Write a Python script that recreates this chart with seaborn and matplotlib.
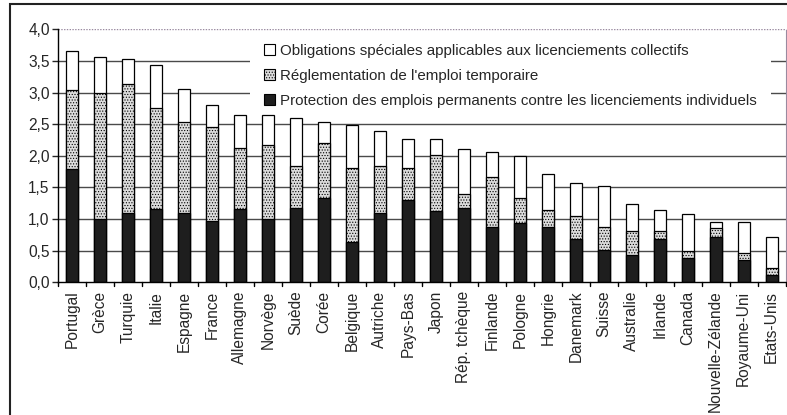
import pandas as pd
import numpy as np
import seaborn as sns
import matplotlib.pyplot as plt
from matplotlib.patches import Patch, Rectangle
from matplotlib.ticker import FuncFormatter

# # Data

pays = ['Portugal', 'Grèce', 'Turquie', 'Italie', 'Espagne', 'France', 'Allemagne',
        'Norvège', 'Suède', 'Corée', 'Belgique', 'Autriche', 'Pays-Bas', 'Japon',
        'Rép. tchèque', 'Finlande', 'Pologne', 'Hongrie', 'Danemark', 'Suisse',
        'Australie', 'Irlande', 'Canada', 'Nouvelle-Zélande', 'Royaume-Uni', 'Etats-Unis']

# protection des emplois permanents (bottom)
permanents = [1.79, 1.00, 1.09, 1.16, 1.09, 0.97, 1.16, 1.00, 1.17, 1.34, 0.63, 1.10, 1.30,
              1.13, 1.17, 0.88, 0.93, 0.88, 0.68, 0.51, 0.43, 0.68, 0.39, 0.72, 0.35, 0.11]
# reglementation de l'emploi temporaire (middle)
temporaire = [1.25, 2.00, 2.04, 1.59, 1.45, 1.49, 0.97, 1.17, 0.67, 0.87, 1.17, 0.74, 0.50,
              0.88, 0.22, 0.79, 0.41, 0.26, 0.37, 0.37, 0.38, 0.13, 0.11, 0.14, 0.12, 0.12]
# obligations speciales licenciements collectifs (top)
collectifs = [0.61, 0.56, 0.40, 0.69, 0.52, 0.35, 0.51, 0.47, 0.75, 0.32, 0.68, 0.55, 0.47,
              0.25, 0.71, 0.39, 0.66, 0.57, 0.52, 0.65, 0.43, 0.34, 0.58, 0.10, 0.49, 0.48]

labels = ["Obligations spéciales applicables aux licenciements collectifs",
          "Réglementation de l'emploi temporaire",
          "Protection des emplois permanents contre les licenciements individuels"]

df = pd.DataFrame({'pays': pays, 'perm': permanents, 'temp': temporaire, 'coll': collectifs})
df['mid'] = df['perm'] + df['temp']
df['total'] = df['mid'] + df['coll']

# # Plot

sns.set_style("white")
plt.rcParams['font.family'] = ['Liberation Sans', 'DejaVu Sans']
plt.rcParams['hatch.color'] = '#a8a8a8'
plt.rcParams['hatch.linewidth'] = 0.5

fig = plt.figure(figsize=(7.87, 4.15), dpi=100)
ax = fig.add_axes([58 / 787, 1 - 282.3 / 415, (785.7 - 58) / 787, (282.3 - 29.3) / 415])

for y in np.arange(0.5, 4.0, 0.5):
    ax.axhline(y, color='#4a4a4a', lw=1.0, zorder=0)
ax.axhline(4.0, color='#9a8aa0', lw=1.0, ls=(0, (1, 1)), zorder=0)

kw = dict(x='pays', data=df, width=0.43, edgecolor='black', linewidth=0.9, zorder=2, ax=ax)
sns.barplot(y='total', color='white', **kw)
sns.barplot(y='mid', color='#dcdcdc', hatch='......', **kw)
sns.barplot(y='perm', color='#1e1e1e', **kw)

ax.set_xlim(-0.5, len(pays) - 0.5)
ax.set_ylim(0, 4.0)
ax.set_yticks(np.arange(0, 4.01, 0.5))
ax.yaxis.set_major_formatter(FuncFormatter(lambda v, p: f"{v:.1f}".replace('.', ',')))
ax.set_xticks(range(len(pays)))
ax.set_xticklabels(pays, rotation=90, fontsize=11.2)
ax.tick_params(axis='x', length=0, pad=6)
ax.tick_params(axis='y', labelsize=11.2, length=4, width=1, direction='out', left=True, pad=2)
for b in np.arange(-0.5, len(pays), 1.0):
    ax.plot([b, b], [0, -0.06], color='black', lw=1, clip_on=False)
ax.set_xlabel('')
ax.set_ylabel('')

ax.spines['top'].set_visible(False)
ax.spines['right'].set_color('#9a8aa0')
ax.spines['right'].set_linestyle((0, (1, 1)))
ax.spines['left'].set_color('black')
ax.spines['bottom'].set_color('black')
ax.spines['left'].set_linewidth(1)
ax.spines['bottom'].set_linewidth(1)

handles = [Patch(facecolor='white', edgecolor='black', lw=0.8),
           Patch(facecolor='#dcdcdc', edgecolor='black', hatch='......', lw=0.8),
           Patch(facecolor='#1e1e1e', edgecolor='black', lw=0.8)]
leg = ax.legend(handles, labels, loc='upper left', bbox_to_anchor=(0.264, 0.995),
                frameon=True, fontsize=10.9, handlelength=0.75, handleheight=0.75,
                handletextpad=0.35, labelspacing=0.72, borderpad=0.9, borderaxespad=0)
leg.get_frame().set_edgecolor('none')
leg.get_frame().set_facecolor('white')
leg.get_frame().set_alpha(1)
# legend hides the gridlines but sits behind the bars
leg.set_zorder(1)

# outer chart frame
fig.patches.append(Rectangle((9.5 / 787, -0.01), 1.0, 1 - 3.5 / 415 + 0.01, transform=fig.transFigure,
                             fill=False, edgecolor='#222222', lw=1.5, zorder=10))

fig.savefig('out.png', dpi=100)
